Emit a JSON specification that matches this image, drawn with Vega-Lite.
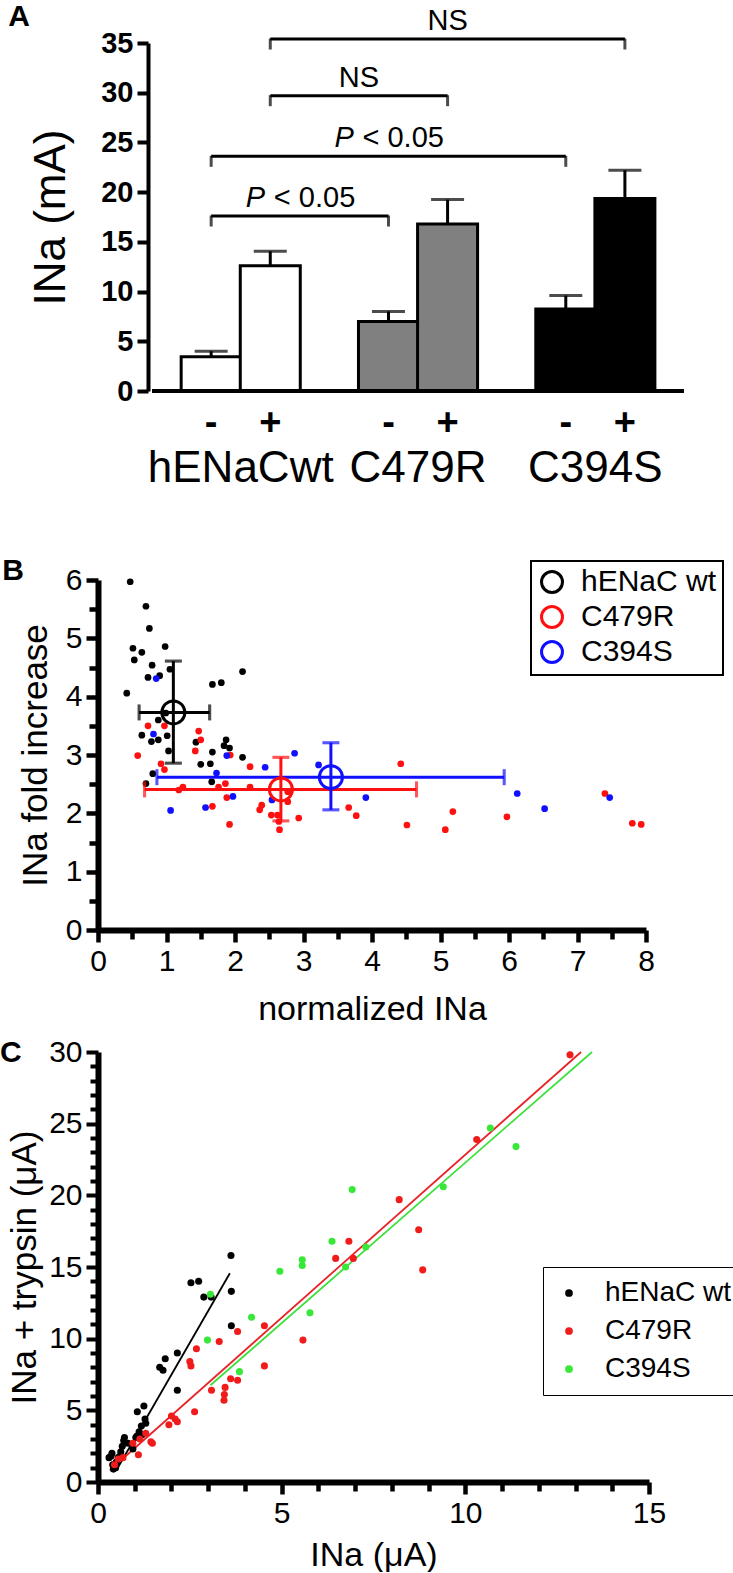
{
  "$schema": "https://vega.github.io/schema/vega-lite/v6.json",
  "background": "white",
  "padding": {"left": 0, "top": 2, "right": 0, "bottom": 0},
  "bounds": "flush",
  "spacing": 189,
  "resolve": {"scale": {"x": "independent", "y": "independent", "color": "independent", "fill": "independent", "stroke": "independent"}},
  "config": {
    "view": {"stroke": null},
    "font": "Liberation Sans",
    "axis": {"domainColor": "black", "tickColor": "black", "labelColor": "black", "titleColor": "black", "grid": false, "titleFontWeight": "normal", "labelFlush": false, "labelOverlap": false, "labelBound": false}
  },
  "datasets": {
    "bars": [
      {"group": "hENaCwt", "treat": "-", "pos": 1, "value": 3.45, "hi": 4.0},
      {"group": "hENaCwt", "treat": "+", "pos": 2, "value": 12.6, "hi": 14.05},
      {"group": "C479R", "treat": "-", "pos": 4, "value": 7.0, "hi": 8.0},
      {"group": "C479R", "treat": "+", "pos": 5, "value": 16.8, "hi": 19.25},
      {"group": "C394S", "treat": "-", "pos": 7, "value": 8.25, "hi": 9.6},
      {"group": "C394S", "treat": "+", "pos": 8, "value": 19.35, "hi": 22.2}
    ],
    "brackets": [
      {"x1": 1, "x2": 4, "y": 17.6, "label": "P < 0.05"},
      {"x1": 1, "x2": 7, "y": 23.6, "label": "P < 0.05"},
      {"x1": 2, "x2": 5, "y": 29.7, "label": "NS"},
      {"x1": 2, "x2": 8, "y": 35.4, "label": "NS"}
    ],
    "bpts": [
      {"geno": "hENaC wt", "x": 0.47, "y": 5.97}, {"geno": "hENaC wt", "x": 0.70, "y": 5.55}, {"geno": "hENaC wt", "x": 0.75, "y": 5.17},
      {"geno": "hENaC wt", "x": 0.51, "y": 4.83}, {"geno": "hENaC wt", "x": 0.64, "y": 4.76}, {"geno": "hENaC wt", "x": 0.53, "y": 4.63},
      {"geno": "hENaC wt", "x": 0.98, "y": 4.86}, {"geno": "hENaC wt", "x": 0.79, "y": 4.54}, {"geno": "hENaC wt", "x": 0.73, "y": 4.33},
      {"geno": "hENaC wt", "x": 0.90, "y": 4.36}, {"geno": "hENaC wt", "x": 1.05, "y": 4.47}, {"geno": "hENaC wt", "x": 0.42, "y": 4.06},
      {"geno": "hENaC wt", "x": 1.67, "y": 4.21}, {"geno": "hENaC wt", "x": 1.80, "y": 4.24}, {"geno": "hENaC wt", "x": 2.11, "y": 4.43},
      {"geno": "hENaC wt", "x": 0.88, "y": 3.60}, {"geno": "hENaC wt", "x": 0.64, "y": 3.34}, {"geno": "hENaC wt", "x": 1.01, "y": 3.33},
      {"geno": "hENaC wt", "x": 0.78, "y": 3.23}, {"geno": "hENaC wt", "x": 0.88, "y": 3.26}, {"geno": "hENaC wt", "x": 1.03, "y": 3.07},
      {"geno": "hENaC wt", "x": 1.43, "y": 3.22}, {"geno": "hENaC wt", "x": 1.87, "y": 3.26}, {"geno": "hENaC wt", "x": 1.84, "y": 3.16},
      {"geno": "hENaC wt", "x": 1.92, "y": 3.12}, {"geno": "hENaC wt", "x": 1.67, "y": 3.05}, {"geno": "hENaC wt", "x": 2.11, "y": 2.96},
      {"geno": "hENaC wt", "x": 1.50, "y": 2.84}, {"geno": "hENaC wt", "x": 1.64, "y": 2.85}, {"geno": "hENaC wt", "x": 0.80, "y": 2.68},
      {"geno": "hENaC wt", "x": 0.70, "y": 2.51}, {"geno": "hENaC wt", "x": 1.66, "y": 2.54}, {"geno": "hENaC wt", "x": 0.99, "y": 3.72},
      {"geno": "C479R", "x": 0.73, "y": 3.50}, {"geno": "C479R", "x": 0.97, "y": 3.50}, {"geno": "C479R", "x": 1.47, "y": 3.41},
      {"geno": "C479R", "x": 1.50, "y": 3.26}, {"geno": "C479R", "x": 1.42, "y": 3.07}, {"geno": "C479R", "x": 0.58, "y": 2.99},
      {"geno": "C479R", "x": 1.93, "y": 3.00}, {"geno": "C479R", "x": 0.92, "y": 2.85}, {"geno": "C479R", "x": 0.97, "y": 2.75},
      {"geno": "C479R", "x": 2.22, "y": 2.80}, {"geno": "C479R", "x": 4.42, "y": 2.85}, {"geno": "C479R", "x": 1.18, "y": 2.40},
      {"geno": "C479R", "x": 1.24, "y": 2.45}, {"geno": "C479R", "x": 1.76, "y": 2.45}, {"geno": "C479R", "x": 1.86, "y": 2.51},
      {"geno": "C479R", "x": 2.22, "y": 2.45}, {"geno": "C479R", "x": 1.88, "y": 2.27}, {"geno": "C479R", "x": 2.77, "y": 2.37},
      {"geno": "C479R", "x": 2.77, "y": 2.20}, {"geno": "C479R", "x": 1.67, "y": 2.12}, {"geno": "C479R", "x": 2.39, "y": 2.14},
      {"geno": "C479R", "x": 2.36, "y": 2.06}, {"geno": "C479R", "x": 2.53, "y": 1.97}, {"geno": "C479R", "x": 2.62, "y": 1.97},
      {"geno": "C479R", "x": 2.64, "y": 1.86}, {"geno": "C479R", "x": 2.93, "y": 1.92}, {"geno": "C479R", "x": 1.92, "y": 1.81},
      {"geno": "C479R", "x": 2.65, "y": 1.72}, {"geno": "C479R", "x": 3.66, "y": 2.10}, {"geno": "C479R", "x": 3.77, "y": 1.96},
      {"geno": "C479R", "x": 4.51, "y": 1.80}, {"geno": "C479R", "x": 5.18, "y": 2.03}, {"geno": "C479R", "x": 5.07, "y": 1.72},
      {"geno": "C479R", "x": 5.97, "y": 1.94}, {"geno": "C479R", "x": 7.40, "y": 2.34}, {"geno": "C479R", "x": 7.80, "y": 1.83},
      {"geno": "C479R", "x": 7.93, "y": 1.81},
      {"geno": "C394S", "x": 0.85, "y": 4.31}, {"geno": "C394S", "x": 0.81, "y": 3.36}, {"geno": "C394S", "x": 1.88, "y": 2.99},
      {"geno": "C394S", "x": 2.87, "y": 3.03}, {"geno": "C394S", "x": 2.44, "y": 2.79}, {"geno": "C394S", "x": 3.22, "y": 2.83},
      {"geno": "C394S", "x": 1.73, "y": 2.69}, {"geno": "C394S", "x": 1.97, "y": 2.29}, {"geno": "C394S", "x": 2.54, "y": 2.23},
      {"geno": "C394S", "x": 1.06, "y": 2.05}, {"geno": "C394S", "x": 1.57, "y": 2.10}, {"geno": "C394S", "x": 3.91, "y": 2.27},
      {"geno": "C394S", "x": 6.12, "y": 2.34}, {"geno": "C394S", "x": 6.52, "y": 2.08}, {"geno": "C394S", "x": 7.47, "y": 2.27}
    ],
    "bmeans": [
      {"g": "hENaC wt", "mx": 1.10, "my": 3.73, "xlo": 0.60, "xhi": 1.63, "ylo": 2.86, "yhi": 4.61},
      {"g": "C479R", "mx": 2.67, "my": 2.41, "xlo": 0.68, "xhi": 4.65, "ylo": 1.87, "yhi": 2.96},
      {"g": "C394S", "mx": 3.40, "my": 2.62, "xlo": 0.86, "xhi": 5.93, "ylo": 2.06, "yhi": 3.21}
    ],
    "cpts": [
      {"g": "hENaC wt", "x": 3.62, "y": 15.8}, {"g": "hENaC wt", "x": 2.53, "y": 13.9}, {"g": "hENaC wt", "x": 2.74, "y": 14.0},
      {"g": "hENaC wt", "x": 2.88, "y": 12.9}, {"g": "hENaC wt", "x": 3.08, "y": 12.9}, {"g": "hENaC wt", "x": 3.63, "y": 13.3},
      {"g": "hENaC wt", "x": 3.63, "y": 10.9}, {"g": "hENaC wt", "x": 2.16, "y": 9.0}, {"g": "hENaC wt", "x": 1.83, "y": 8.6},
      {"g": "hENaC wt", "x": 1.68, "y": 8.0}, {"g": "hENaC wt", "x": 1.77, "y": 7.8}, {"g": "hENaC wt", "x": 2.16, "y": 6.4},
      {"g": "hENaC wt", "x": 1.07, "y": 4.9}, {"g": "hENaC wt", "x": 1.25, "y": 5.3}, {"g": "hENaC wt", "x": 1.28, "y": 4.4},
      {"g": "hENaC wt", "x": 1.30, "y": 4.1}, {"g": "hENaC wt", "x": 1.18, "y": 3.9}, {"g": "hENaC wt", "x": 1.12, "y": 3.5},
      {"g": "hENaC wt", "x": 1.03, "y": 3.1}, {"g": "hENaC wt", "x": 0.95, "y": 2.3}, {"g": "hENaC wt", "x": 1.06, "y": 3.2},
      {"g": "hENaC wt", "x": 0.30, "y": 1.7}, {"g": "hENaC wt", "x": 0.38, "y": 2.0}, {"g": "hENaC wt", "x": 0.40, "y": 1.2},
      {"g": "hENaC wt", "x": 0.42, "y": 0.9}, {"g": "hENaC wt", "x": 0.50, "y": 1.4}, {"g": "hENaC wt", "x": 0.55, "y": 1.7},
      {"g": "hENaC wt", "x": 0.62, "y": 2.1}, {"g": "hENaC wt", "x": 0.66, "y": 2.5}, {"g": "hENaC wt", "x": 0.70, "y": 2.9},
      {"g": "hENaC wt", "x": 0.72, "y": 3.1}, {"g": "hENaC wt", "x": 0.82, "y": 2.7}, {"g": "hENaC wt", "x": 0.48, "y": 1.0},
      {"g": "hENaC wt", "x": 0.35, "y": 1.8}, {"g": "hENaC wt", "x": 0.60, "y": 1.8}, {"g": "hENaC wt", "x": 1.20, "y": 3.3},
      {"g": "C479R", "x": 12.85, "y": 29.8}, {"g": "C479R", "x": 10.31, "y": 23.9}, {"g": "C479R", "x": 8.2, "y": 19.7},
      {"g": "C479R", "x": 8.73, "y": 17.6}, {"g": "C479R", "x": 8.84, "y": 14.8}, {"g": "C479R", "x": 6.83, "y": 16.8},
      {"g": "C479R", "x": 6.47, "y": 15.6}, {"g": "C479R", "x": 6.95, "y": 15.6}, {"g": "C479R", "x": 5.58, "y": 9.9},
      {"g": "C479R", "x": 4.53, "y": 10.9}, {"g": "C479R", "x": 4.53, "y": 8.1}, {"g": "C479R", "x": 3.80, "y": 10.5},
      {"g": "C479R", "x": 3.30, "y": 9.8}, {"g": "C479R", "x": 2.68, "y": 9.3}, {"g": "C479R", "x": 2.5, "y": 8.4},
      {"g": "C479R", "x": 2.53, "y": 8.1}, {"g": "C479R", "x": 3.61, "y": 7.2}, {"g": "C479R", "x": 3.80, "y": 7.1},
      {"g": "C479R", "x": 3.09, "y": 6.4}, {"g": "C479R", "x": 3.46, "y": 6.6}, {"g": "C479R", "x": 3.44, "y": 6.1},
      {"g": "C479R", "x": 3.43, "y": 5.7}, {"g": "C479R", "x": 2.63, "y": 4.9}, {"g": "C479R", "x": 2.0, "y": 4.6},
      {"g": "C479R", "x": 2.1, "y": 4.4}, {"g": "C479R", "x": 2.16, "y": 4.2}, {"g": "C479R", "x": 1.93, "y": 4.0},
      {"g": "C479R", "x": 1.48, "y": 2.7}, {"g": "C479R", "x": 1.44, "y": 2.8}, {"g": "C479R", "x": 1.1, "y": 1.9},
      {"g": "C479R", "x": 1.14, "y": 3.0}, {"g": "C479R", "x": 0.95, "y": 2.7}, {"g": "C479R", "x": 0.55, "y": 1.6},
      {"g": "C479R", "x": 0.68, "y": 1.7}, {"g": "C479R", "x": 0.45, "y": 1.2}, {"g": "C479R", "x": 1.3, "y": 3.4},
      {"g": "C394S", "x": 11.38, "y": 23.4}, {"g": "C394S", "x": 10.68, "y": 24.7}, {"g": "C394S", "x": 9.4, "y": 20.6},
      {"g": "C394S", "x": 6.92, "y": 20.4}, {"g": "C394S", "x": 7.29, "y": 16.4}, {"g": "C394S", "x": 6.37, "y": 16.8},
      {"g": "C394S", "x": 6.74, "y": 15.0}, {"g": "C394S", "x": 5.56, "y": 15.5}, {"g": "C394S", "x": 5.56, "y": 15.1},
      {"g": "C394S", "x": 4.95, "y": 14.7}, {"g": "C394S", "x": 5.77, "y": 11.8}, {"g": "C394S", "x": 4.18, "y": 11.5},
      {"g": "C394S", "x": 3.06, "y": 13.1}, {"g": "C394S", "x": 2.98, "y": 9.9}, {"g": "C394S", "x": 3.85, "y": 7.7}
    ],
    "clines": [
      {"series": "hENaC wt", "x": 0.5, "y": 0.82}, {"series": "hENaC wt", "x": 3.59, "y": 14.56},
      {"series": "C394S", "x": 3.06, "y": 6.75}, {"series": "C394S", "x": 13.45, "y": 30.0},
      {"series": "C479R", "x": 0.32, "y": 0.82}, {"series": "C479R", "x": 13.15, "y": 30.0}
    ]
  },
  "vconcat": [
    {
      "width": 591,
      "height": 348,
      "layer": [
        {
          "data": {"name": "bars"},
          "mark": {"type": "bar", "width": 60, "stroke": "black", "strokeWidth": 3},
          "encoding": {
            "x": {"field": "pos", "type": "quantitative", "scale": {"domain": [-0.83, 9], "nice": false, "zero": false}, "axis": null},
            "y": {"field": "value", "type": "quantitative", "scale": {"domain": [0, 35], "nice": false},
              "axis": {"values": [0, 5, 10, 15, 20, 25, 30, 35], "offset": -50, "domainWidth": 4, "tickWidth": 4, "tickSize": 11, "labelOverlap": false, "labelFontSize": 29, "labelFontWeight": "bold", "labelPadding": 4, "title": "INa (mA)", "titleFontSize": 44, "titlePadding": 27}},
            "y2": {"datum": 0},
            "fill": {"field": "group", "type": "nominal", "scale": {"domain": ["hENaCwt", "C479R", "C394S"], "range": ["white", "#808080", "black"]}, "legend": null}
          }
        },
        {
          "data": {"name": "bars"},
          "mark": {"type": "rule", "strokeWidth": 4, "color": "black"},
          "encoding": {
            "x": {"datum": 0, "type": "quantitative", "axis": null},
            "x2": {"datum": 9},
            "y": {"datum": 0, "type": "quantitative",
              "axis": {"values": [0, 5, 10, 15, 20, 25, 30, 35], "offset": -50, "domainWidth": 4, "tickWidth": 4, "tickSize": 11, "labelOverlap": false, "labelFontSize": 29, "labelFontWeight": "bold", "labelPadding": 4, "title": "INa (mA)", "titleFontSize": 44, "titlePadding": 27}}
          }
        },
        {
          "data": {"name": "bars"},
          "mark": {"type": "rule", "strokeWidth": 3, "color": "black"},
          "encoding": {
            "x": {"field": "pos", "type": "quantitative", "axis": null},
            "y": {"field": "value", "type": "quantitative",
              "axis": {"values": [0, 5, 10, 15, 20, 25, 30, 35], "offset": -50, "domainWidth": 4, "tickWidth": 4, "tickSize": 11, "labelOverlap": false, "labelFontSize": 29, "labelFontWeight": "bold", "labelPadding": 4, "title": "INa (mA)", "titleFontSize": 44, "titlePadding": 27}},
            "y2": {"field": "hi"}
          }
        },
        {
          "data": {"name": "bars"},
          "mark": {"type": "tick", "orient": "horizontal", "size": 33, "thickness": 3, "color": "black"},
          "encoding": {
            "x": {"field": "pos", "type": "quantitative", "axis": null},
            "y": {"field": "hi", "type": "quantitative",
              "axis": {"values": [0, 5, 10, 15, 20, 25, 30, 35], "offset": -50, "domainWidth": 4, "tickWidth": 4, "tickSize": 11, "labelOverlap": false, "labelFontSize": 29, "labelFontWeight": "bold", "labelPadding": 4, "title": "INa (mA)", "titleFontSize": 44, "titlePadding": 27}}
          }
        },
        {
          "data": {"name": "bars"},
          "mark": {"type": "text", "fontSize": 38, "fontWeight": "bold", "baseline": "middle", "dy": 33, "color": "black"},
          "encoding": {
            "x": {"field": "pos", "type": "quantitative", "axis": null},
            "y": {"datum": 0, "type": "quantitative",
              "axis": {"values": [0, 5, 10, 15, 20, 25, 30, 35], "offset": -50, "domainWidth": 4, "tickWidth": 4, "tickSize": 11, "labelOverlap": false, "labelFontSize": 29, "labelFontWeight": "bold", "labelPadding": 4, "title": "INa (mA)", "titleFontSize": 44, "titlePadding": 27}},
            "text": {"field": "treat"}
          }
        },
        {
          "data": {"name": "bars"},
          "mark": {"type": "text", "fontSize": 44, "baseline": "middle", "dy": 78, "color": "black"},
          "encoding": {
            "x": {"aggregate": "mean", "field": "pos", "type": "quantitative", "axis": null},
            "y": {"datum": 0, "type": "quantitative",
              "axis": {"values": [0, 5, 10, 15, 20, 25, 30, 35], "offset": -50, "domainWidth": 4, "tickWidth": 4, "tickSize": 11, "labelOverlap": false, "labelFontSize": 29, "labelFontWeight": "bold", "labelPadding": 4, "title": "INa (mA)", "titleFontSize": 44, "titlePadding": 27}},
            "text": {"field": "group"}
          }
        },
        {
          "data": {"name": "brackets"},
          "mark": {"type": "rule", "strokeWidth": 3, "color": "black"},
          "encoding": {
            "x": {"field": "x1", "type": "quantitative", "axis": null},
            "x2": {"field": "x2"},
            "y": {"field": "y", "type": "quantitative",
              "axis": {"values": [0, 5, 10, 15, 20, 25, 30, 35], "offset": -50, "domainWidth": 4, "tickWidth": 4, "tickSize": 11, "labelOverlap": false, "labelFontSize": 29, "labelFontWeight": "bold", "labelPadding": 4, "title": "INa (mA)", "titleFontSize": 44, "titlePadding": 27}}
          }
        },
        {
          "data": {"name": "brackets"},
          "transform": [{"fold": ["x1", "x2"], "as": ["end", "xe"]}],
          "mark": {"type": "tick", "orient": "vertical", "size": 11, "thickness": 3, "yOffset": 5, "color": "black"},
          "encoding": {
            "x": {"field": "xe", "type": "quantitative", "axis": null},
            "y": {"field": "y", "type": "quantitative",
              "axis": {"values": [0, 5, 10, 15, 20, 25, 30, 35], "offset": -50, "domainWidth": 4, "tickWidth": 4, "tickSize": 11, "labelOverlap": false, "labelFontSize": 29, "labelFontWeight": "bold", "labelPadding": 4, "title": "INa (mA)", "titleFontSize": 44, "titlePadding": 27}}
          }
        },
        {
          "data": {"name": "brackets"},
          "transform": [{"filter": "datum.label == 'NS'"}, {"calculate": "(datum.x1 + datum.x2) / 2", "as": "mid"}],
          "mark": {"type": "text", "fontSize": 29, "baseline": "alphabetic", "dy": -9, "color": "black"},
          "encoding": {
            "x": {"field": "mid", "type": "quantitative", "axis": null},
            "y": {"field": "y", "type": "quantitative",
              "axis": {"values": [0, 5, 10, 15, 20, 25, 30, 35], "offset": -50, "domainWidth": 4, "tickWidth": 4, "tickSize": 11, "labelOverlap": false, "labelFontSize": 29, "labelFontWeight": "bold", "labelPadding": 4, "title": "INa (mA)", "titleFontSize": 44, "titlePadding": 27}},
            "text": {"field": "label"}
          }
        },
        {
          "data": {"name": "brackets"},
          "transform": [{"filter": "datum.label != 'NS'"}, {"calculate": "(datum.x1 + datum.x2) / 2", "as": "mid"}, {"calculate": "'P'", "as": "p"}],
          "mark": {"type": "text", "fontSize": 29, "fontStyle": "italic", "align": "left", "baseline": "alphabetic", "dx": -54, "dy": -9, "color": "black"},
          "encoding": {
            "x": {"field": "mid", "type": "quantitative", "axis": null},
            "y": {"field": "y", "type": "quantitative",
              "axis": {"values": [0, 5, 10, 15, 20, 25, 30, 35], "offset": -50, "domainWidth": 4, "tickWidth": 4, "tickSize": 11, "labelOverlap": false, "labelFontSize": 29, "labelFontWeight": "bold", "labelPadding": 4, "title": "INa (mA)", "titleFontSize": 44, "titlePadding": 27}},
            "text": {"field": "p"}
          }
        },
        {
          "data": {"name": "brackets"},
          "transform": [{"filter": "datum.label != 'NS'"}, {"calculate": "(datum.x1 + datum.x2) / 2", "as": "mid"}, {"calculate": "'< 0.05'", "as": "rest"}],
          "mark": {"type": "text", "fontSize": 29, "align": "left", "baseline": "alphabetic", "dx": -26, "dy": -9, "color": "black"},
          "encoding": {
            "x": {"field": "mid", "type": "quantitative", "axis": null},
            "y": {"field": "y", "type": "quantitative",
              "axis": {"values": [0, 5, 10, 15, 20, 25, 30, 35], "offset": -50, "domainWidth": 4, "tickWidth": 4, "tickSize": 11, "labelOverlap": false, "labelFontSize": 29, "labelFontWeight": "bold", "labelPadding": 4, "title": "INa (mA)", "titleFontSize": 44, "titlePadding": 27}},
            "text": {"field": "rest"}
          }
        },
        {
          "data": {"values": [{"t": "A"}]},
          "mark": {"type": "text", "fontSize": 30, "fontWeight": "bold", "baseline": "middle", "color": "black"},
          "encoding": {
            "x": {"datum": -2.25, "type": "quantitative", "axis": null},
            "y": {"datum": 37.6, "type": "quantitative",
              "axis": {"values": [0, 5, 10, 15, 20, 25, 30, 35], "offset": -50, "domainWidth": 4, "tickWidth": 4, "tickSize": 11, "labelOverlap": false, "labelFontSize": 29, "labelFontWeight": "bold", "labelPadding": 4, "title": "INa (mA)", "titleFontSize": 44, "titlePadding": 27}},
            "text": {"field": "t"}
          }
        }
      ]
    },
    {
      "bounds": "flush",
      "spacing": 122,
      "resolve": {"scale": {"x": "independent", "y": "independent", "color": "independent", "fill": "independent", "stroke": "independent"}},
      "vconcat": [
        {
          "width": 548,
          "height": 350,
          "layer": [
            {
              "data": {"name": "bpts"},
              "mark": {"type": "circle", "size": 45, "opacity": 1},
              "encoding": {
                "x": {"field": "x", "type": "quantitative", "scale": {"domain": [0, 8], "nice": false},
                  "axis": {"values": [0, 0.5, 1, 1.5, 2, 2.5, 3, 3.5, 4, 4.5, 5, 5.5, 6, 6.5, 7, 7.5, 8], "labelExpr": "datum.value % 1 === 0 ? '' + datum.value : ''", "tickSize": {"condition": {"test": "datum.value % 1 === 0", "value": 12}, "value": 9}, "tickWidth": 4.5, "domainWidth": 6, "labelOverlap": false, "labelFontSize": 30, "labelPadding": 4, "title": "normalized INa", "titleFontSize": 34, "titlePadding": 16}},
                "y": {"field": "y", "type": "quantitative", "scale": {"domain": [0, 6], "nice": false},
                  "axis": {"values": [0, 0.5, 1, 1.5, 2, 2.5, 3, 3.5, 4, 4.5, 5, 5.5, 6], "labelExpr": "datum.value % 1 === 0 ? '' + datum.value : ''", "tickSize": {"condition": {"test": "datum.value % 1 === 0", "value": 12}, "value": 9}, "tickWidth": 4.5, "domainWidth": 6, "labelOverlap": false, "labelFontSize": 30, "labelPadding": 4, "title": "INa fold increase", "titleFontSize": 35, "titlePadding": 12}},
                "fill": {"field": "geno", "type": "nominal", "scale": {"range": ["#1010ff", "#ff1010", "black"]}, "legend": null}
              }
            },
            {
              "data": {"name": "bmeans"},
              "mark": {"type": "rule", "strokeWidth": 3},
              "encoding": {
                "x": {"field": "xlo", "type": "quantitative",
                  "axis": {"values": [0, 0.5, 1, 1.5, 2, 2.5, 3, 3.5, 4, 4.5, 5, 5.5, 6, 6.5, 7, 7.5, 8], "labelExpr": "datum.value % 1 === 0 ? '' + datum.value : ''", "tickSize": {"condition": {"test": "datum.value % 1 === 0", "value": 12}, "value": 9}, "tickWidth": 4.5, "domainWidth": 6, "labelOverlap": false, "labelFontSize": 30, "labelPadding": 4, "title": "normalized INa", "titleFontSize": 34, "titlePadding": 16}},
                "x2": {"field": "xhi"},
                "y": {"field": "my", "type": "quantitative",
                  "axis": {"values": [0, 0.5, 1, 1.5, 2, 2.5, 3, 3.5, 4, 4.5, 5, 5.5, 6], "labelExpr": "datum.value % 1 === 0 ? '' + datum.value : ''", "tickSize": {"condition": {"test": "datum.value % 1 === 0", "value": 12}, "value": 9}, "tickWidth": 4.5, "domainWidth": 6, "labelOverlap": false, "labelFontSize": 30, "labelPadding": 4, "title": "INa fold increase", "titleFontSize": 35, "titlePadding": 12}},
                "stroke": {"field": "g", "type": "nominal", "scale": {"domain": ["hENaC wt", "C479R", "C394S"], "range": ["black", "#ff1010", "#1010ff"]},
                  "legend": {"orient": "none", "legendX": 433, "legendY": -19, "title": null, "strokeColor": "black", "fillColor": "white", "padding": 6, "labelFontSize": 30, "labelColor": "black", "symbolSize": 440, "symbolStrokeWidth": 3, "symbolType": "circle", "symbolFillColor": "transparent", "labelOffset": 14, "rowPadding": 1, "encode": {"legend": {"update": {"strokeWidth": {"value": 2}}}}}}
              }
            },
            {
              "data": {"name": "bmeans"},
              "mark": {"type": "rule", "strokeWidth": 3},
              "encoding": {
                "x": {"field": "mx", "type": "quantitative",
                  "axis": {"values": [0, 0.5, 1, 1.5, 2, 2.5, 3, 3.5, 4, 4.5, 5, 5.5, 6, 6.5, 7, 7.5, 8], "labelExpr": "datum.value % 1 === 0 ? '' + datum.value : ''", "tickSize": {"condition": {"test": "datum.value % 1 === 0", "value": 12}, "value": 9}, "tickWidth": 4.5, "domainWidth": 6, "labelOverlap": false, "labelFontSize": 30, "labelPadding": 4, "title": "normalized INa", "titleFontSize": 34, "titlePadding": 16}},
                "y": {"field": "ylo", "type": "quantitative",
                  "axis": {"values": [0, 0.5, 1, 1.5, 2, 2.5, 3, 3.5, 4, 4.5, 5, 5.5, 6], "labelExpr": "datum.value % 1 === 0 ? '' + datum.value : ''", "tickSize": {"condition": {"test": "datum.value % 1 === 0", "value": 12}, "value": 9}, "tickWidth": 4.5, "domainWidth": 6, "labelOverlap": false, "labelFontSize": 30, "labelPadding": 4, "title": "INa fold increase", "titleFontSize": 35, "titlePadding": 12}},
                "y2": {"field": "yhi"},
                "stroke": {"field": "g", "type": "nominal",
                  "legend": {"orient": "none", "legendX": 433, "legendY": -19, "title": null, "strokeColor": "black", "fillColor": "white", "padding": 6, "labelFontSize": 30, "labelColor": "black", "symbolSize": 440, "symbolStrokeWidth": 3, "symbolType": "circle", "symbolFillColor": "transparent", "labelOffset": 14, "rowPadding": 1, "encode": {"legend": {"update": {"strokeWidth": {"value": 2}}}}}}
              }
            },
            {
              "data": {"name": "bmeans"},
              "transform": [{"fold": ["xlo", "xhi"], "as": ["k", "xv"]}],
              "mark": {"type": "tick", "orient": "vertical", "size": 13, "thickness": 0.1, "filled": false, "strokeWidth": 3},
              "encoding": {
                "x": {"field": "xv", "type": "quantitative",
                  "axis": {"values": [0, 0.5, 1, 1.5, 2, 2.5, 3, 3.5, 4, 4.5, 5, 5.5, 6, 6.5, 7, 7.5, 8], "labelExpr": "datum.value % 1 === 0 ? '' + datum.value : ''", "tickSize": {"condition": {"test": "datum.value % 1 === 0", "value": 12}, "value": 9}, "tickWidth": 4.5, "domainWidth": 6, "labelOverlap": false, "labelFontSize": 30, "labelPadding": 4, "title": "normalized INa", "titleFontSize": 34, "titlePadding": 16}},
                "y": {"field": "my", "type": "quantitative",
                  "axis": {"values": [0, 0.5, 1, 1.5, 2, 2.5, 3, 3.5, 4, 4.5, 5, 5.5, 6], "labelExpr": "datum.value % 1 === 0 ? '' + datum.value : ''", "tickSize": {"condition": {"test": "datum.value % 1 === 0", "value": 12}, "value": 9}, "tickWidth": 4.5, "domainWidth": 6, "labelOverlap": false, "labelFontSize": 30, "labelPadding": 4, "title": "INa fold increase", "titleFontSize": 35, "titlePadding": 12}},
                "stroke": {"field": "g", "type": "nominal",
                  "legend": {"orient": "none", "legendX": 433, "legendY": -19, "title": null, "strokeColor": "black", "fillColor": "white", "padding": 6, "labelFontSize": 30, "labelColor": "black", "symbolSize": 440, "symbolStrokeWidth": 3, "symbolType": "circle", "symbolFillColor": "transparent", "labelOffset": 14, "rowPadding": 1, "encode": {"legend": {"update": {"strokeWidth": {"value": 2}}}}}}
              }
            },
            {
              "data": {"name": "bmeans"},
              "transform": [{"fold": ["ylo", "yhi"], "as": ["k", "yv"]}],
              "mark": {"type": "tick", "orient": "horizontal", "size": 14, "thickness": 0.1, "filled": false, "strokeWidth": 3},
              "encoding": {
                "x": {"field": "mx", "type": "quantitative",
                  "axis": {"values": [0, 0.5, 1, 1.5, 2, 2.5, 3, 3.5, 4, 4.5, 5, 5.5, 6, 6.5, 7, 7.5, 8], "labelExpr": "datum.value % 1 === 0 ? '' + datum.value : ''", "tickSize": {"condition": {"test": "datum.value % 1 === 0", "value": 12}, "value": 9}, "tickWidth": 4.5, "domainWidth": 6, "labelOverlap": false, "labelFontSize": 30, "labelPadding": 4, "title": "normalized INa", "titleFontSize": 34, "titlePadding": 16}},
                "y": {"field": "yv", "type": "quantitative",
                  "axis": {"values": [0, 0.5, 1, 1.5, 2, 2.5, 3, 3.5, 4, 4.5, 5, 5.5, 6], "labelExpr": "datum.value % 1 === 0 ? '' + datum.value : ''", "tickSize": {"condition": {"test": "datum.value % 1 === 0", "value": 12}, "value": 9}, "tickWidth": 4.5, "domainWidth": 6, "labelOverlap": false, "labelFontSize": 30, "labelPadding": 4, "title": "INa fold increase", "titleFontSize": 35, "titlePadding": 12}},
                "stroke": {"field": "g", "type": "nominal",
                  "legend": {"orient": "none", "legendX": 433, "legendY": -19, "title": null, "strokeColor": "black", "fillColor": "white", "padding": 6, "labelFontSize": 30, "labelColor": "black", "symbolSize": 440, "symbolStrokeWidth": 3, "symbolType": "circle", "symbolFillColor": "transparent", "labelOffset": 14, "rowPadding": 1, "encode": {"legend": {"update": {"strokeWidth": {"value": 2}}}}}}
              }
            },
            {
              "data": {"name": "bmeans"},
              "mark": {"type": "point", "shape": "circle", "filled": false, "size": 530, "strokeWidth": 3, "opacity": 1},
              "encoding": {
                "x": {"field": "mx", "type": "quantitative",
                  "axis": {"values": [0, 0.5, 1, 1.5, 2, 2.5, 3, 3.5, 4, 4.5, 5, 5.5, 6, 6.5, 7, 7.5, 8], "labelExpr": "datum.value % 1 === 0 ? '' + datum.value : ''", "tickSize": {"condition": {"test": "datum.value % 1 === 0", "value": 12}, "value": 9}, "tickWidth": 4.5, "domainWidth": 6, "labelOverlap": false, "labelFontSize": 30, "labelPadding": 4, "title": "normalized INa", "titleFontSize": 34, "titlePadding": 16}},
                "y": {"field": "my", "type": "quantitative",
                  "axis": {"values": [0, 0.5, 1, 1.5, 2, 2.5, 3, 3.5, 4, 4.5, 5, 5.5, 6], "labelExpr": "datum.value % 1 === 0 ? '' + datum.value : ''", "tickSize": {"condition": {"test": "datum.value % 1 === 0", "value": 12}, "value": 9}, "tickWidth": 4.5, "domainWidth": 6, "labelOverlap": false, "labelFontSize": 30, "labelPadding": 4, "title": "INa fold increase", "titleFontSize": 35, "titlePadding": 12}},
                "stroke": {"field": "g", "type": "nominal",
                  "legend": {"orient": "none", "legendX": 433, "legendY": -19, "title": null, "strokeColor": "black", "fillColor": "white", "padding": 6, "labelFontSize": 30, "labelColor": "black", "symbolSize": 440, "symbolStrokeWidth": 3, "symbolType": "circle", "symbolFillColor": "transparent", "labelOffset": 14, "rowPadding": 1, "encode": {"legend": {"update": {"strokeWidth": {"value": 2}}}}}}
              }
            },
            {
              "data": {"values": [{"t": "B"}]},
              "mark": {"type": "text", "fontSize": 30, "fontWeight": "bold", "baseline": "middle", "color": "black"},
              "encoding": {
                "x": {"datum": -1.24, "type": "quantitative",
                  "axis": {"values": [0, 0.5, 1, 1.5, 2, 2.5, 3, 3.5, 4, 4.5, 5, 5.5, 6, 6.5, 7, 7.5, 8], "labelExpr": "datum.value % 1 === 0 ? '' + datum.value : ''", "tickSize": {"condition": {"test": "datum.value % 1 === 0", "value": 12}, "value": 9}, "tickWidth": 4.5, "domainWidth": 6, "labelOverlap": false, "labelFontSize": 30, "labelPadding": 4, "title": "normalized INa", "titleFontSize": 34, "titlePadding": 16}},
                "y": {"datum": 6.15, "type": "quantitative",
                  "axis": {"values": [0, 0.5, 1, 1.5, 2, 2.5, 3, 3.5, 4, 4.5, 5, 5.5, 6], "labelExpr": "datum.value % 1 === 0 ? '' + datum.value : ''", "tickSize": {"condition": {"test": "datum.value % 1 === 0", "value": 12}, "value": 9}, "tickWidth": 4.5, "domainWidth": 6, "labelOverlap": false, "labelFontSize": 30, "labelPadding": 4, "title": "INa fold increase", "titleFontSize": 35, "titlePadding": 12}},
                "text": {"field": "t"}
              }
            }
          ]
        },
        {
          "width": 551,
          "height": 430,
          "layer": [
            {
              "data": {"name": "clines"},
              "mark": {"type": "line", "strokeWidth": 1.8},
              "encoding": {
                "x": {"field": "x", "type": "quantitative", "scale": {"domain": [0, 15], "nice": false},
                  "axis": {"values": [0, 1, 2, 3, 4, 5, 6, 7, 8, 9, 10, 11, 12, 13, 14, 15], "labelExpr": "datum.value % 5 === 0 ? '' + datum.value : ''", "tickSize": {"condition": {"test": "datum.value % 5 === 0", "value": 12}, "value": 9}, "tickWidth": 4.5, "domainWidth": 6, "labelOverlap": false, "labelFontSize": 30, "labelPadding": 4, "title": "INa (μA)", "titleFontSize": 34, "titlePadding": 10}},
                "y": {"field": "y", "type": "quantitative", "scale": {"domain": [0, 30], "nice": false},
                  "axis": {"values": [0, 1, 2, 3, 4, 5, 6, 7, 8, 9, 10, 11, 12, 13, 14, 15, 16, 17, 18, 19, 20, 21, 22, 23, 24, 25, 26, 27, 28, 29, 30], "labelExpr": "datum.value % 5 === 0 ? '' + datum.value : ''", "tickSize": {"condition": {"test": "datum.value % 5 === 0", "value": 12}, "value": 8}, "tickWidth": 4, "domainWidth": 6, "labelOverlap": false, "labelFontSize": 30, "labelPadding": 4, "title": "INa + trypsin (μA)", "titleFontSize": 35, "titlePadding": 6}},
                "stroke": {"field": "series", "type": "nominal", "scale": {"range": ["#3ee03e", "#e8232a", "black"]}, "legend": null},
                "detail": {"field": "series"}
              }
            },
            {
              "data": {"name": "cpts"},
              "mark": {"type": "circle", "size": 50, "opacity": 1},
              "encoding": {
                "x": {"field": "x", "type": "quantitative",
                  "axis": {"values": [0, 1, 2, 3, 4, 5, 6, 7, 8, 9, 10, 11, 12, 13, 14, 15], "labelExpr": "datum.value % 5 === 0 ? '' + datum.value : ''", "tickSize": {"condition": {"test": "datum.value % 5 === 0", "value": 12}, "value": 9}, "tickWidth": 4.5, "domainWidth": 6, "labelOverlap": false, "labelFontSize": 30, "labelPadding": 4, "title": "INa (μA)", "titleFontSize": 34, "titlePadding": 10}},
                "y": {"field": "y", "type": "quantitative",
                  "axis": {"values": [0, 1, 2, 3, 4, 5, 6, 7, 8, 9, 10, 11, 12, 13, 14, 15, 16, 17, 18, 19, 20, 21, 22, 23, 24, 25, 26, 27, 28, 29, 30], "labelExpr": "datum.value % 5 === 0 ? '' + datum.value : ''", "tickSize": {"condition": {"test": "datum.value % 5 === 0", "value": 12}, "value": 8}, "tickWidth": 4, "domainWidth": 6, "labelOverlap": false, "labelFontSize": 30, "labelPadding": 4, "title": "INa + trypsin (μA)", "titleFontSize": 35, "titlePadding": 6}},
                "color": {"field": "g", "type": "nominal",
                  "scale": {"domain": ["hENaC wt", "C479R", "C394S"], "range": ["black", "#f01c1c", "#38e838"]},
                  "legend": {"orient": "none", "legendX": 445, "legendY": 215, "title": null, "strokeColor": "black", "fillColor": "white", "padding": 12, "labelFontSize": 28, "labelColor": "black", "symbolSize": 60, "symbolType": "circle", "labelOffset": 22, "rowPadding": 10, "encode": {"legend": {"update": {"strokeWidth": {"value": 2}}}}}}
              }
            },
            {
              "data": {"values": [{"t": "C"}]},
              "mark": {"type": "text", "fontSize": 30, "fontWeight": "bold", "baseline": "middle", "color": "black"},
              "encoding": {
                "x": {"datum": -2.37, "type": "quantitative",
                  "axis": {"values": [0, 1, 2, 3, 4, 5, 6, 7, 8, 9, 10, 11, 12, 13, 14, 15], "labelExpr": "datum.value % 5 === 0 ? '' + datum.value : ''", "tickSize": {"condition": {"test": "datum.value % 5 === 0", "value": 12}, "value": 9}, "tickWidth": 4.5, "domainWidth": 6, "labelOverlap": false, "labelFontSize": 30, "labelPadding": 4, "title": "INa (μA)", "titleFontSize": 34, "titlePadding": 10}},
                "y": {"datum": 29.9, "type": "quantitative",
                  "axis": {"values": [0, 1, 2, 3, 4, 5, 6, 7, 8, 9, 10, 11, 12, 13, 14, 15, 16, 17, 18, 19, 20, 21, 22, 23, 24, 25, 26, 27, 28, 29, 30], "labelExpr": "datum.value % 5 === 0 ? '' + datum.value : ''", "tickSize": {"condition": {"test": "datum.value % 5 === 0", "value": 12}, "value": 8}, "tickWidth": 4, "domainWidth": 6, "labelOverlap": false, "labelFontSize": 30, "labelPadding": 4, "title": "INa + trypsin (μA)", "titleFontSize": 35, "titlePadding": 6}},
                "text": {"field": "t"}
              }
            }
          ]
        }
      ]
    }
  ]
}
